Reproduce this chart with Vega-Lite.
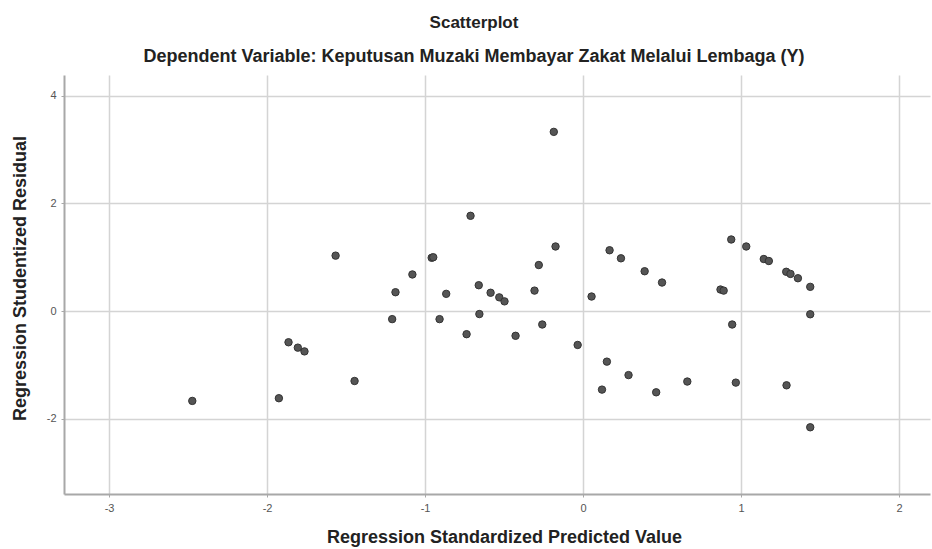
{
  "$schema": "https://vega.github.io/schema/vega-lite/v6.json",
  "autosize": {"type": "none"},
  "width": 866,
  "height": 419,
  "padding": {"left": 64, "top": 75, "right": 2, "bottom": 55},
  "background": "white",
  "title": {
    "text": "Scatterplot",
    "subtitle": "Dependent Variable: Keputusan Muzaki Membayar Zakat Melalui Lembaga (Y)",
    "anchor": "middle",
    "frame": "group",
    "dx": -23,
    "offset": 8,
    "font": "Liberation Sans",
    "fontSize": 17,
    "fontWeight": "bold",
    "color": "#222222",
    "subtitleFont": "Liberation Sans",
    "subtitleFontSize": 18,
    "subtitleFontWeight": "bold",
    "subtitleColor": "#222222",
    "subtitlePadding": 16
  },
  "config": {
    "view": {"stroke": null},
    "axis": {
      "grid": true,
      "gridColor": "#d4d4d4",
      "gridWidth": 1.5,
      "domainColor": "#a8a8a8",
      "domainWidth": 2,
      "tickColor": "#a8a8a8",
      "tickSize": 3,
      "labelFont": "Liberation Sans",
      "labelFontSize": 11,
      "labelColor": "#555555",
      "titleFont": "Liberation Sans",
      "titleFontSize": 18,
      "titleFontWeight": "bold",
      "titleColor": "#222222"
    }
  },
  "data": {
    "values": [
      {"pred": -2.473, "resid": -1.67},
      {"pred": -1.925, "resid": -1.62},
      {"pred": -1.864, "resid": -0.58},
      {"pred": -1.805, "resid": -0.68},
      {"pred": -1.763, "resid": -0.75},
      {"pred": -1.566, "resid": 1.03},
      {"pred": -1.446, "resid": -1.30},
      {"pred": -1.208, "resid": -0.15},
      {"pred": -1.187, "resid": 0.35},
      {"pred": -1.08, "resid": 0.68},
      {"pred": -0.958, "resid": 0.99},
      {"pred": -0.948, "resid": 1.0},
      {"pred": -0.908, "resid": -0.15},
      {"pred": -0.866, "resid": 0.32},
      {"pred": -0.737, "resid": -0.43},
      {"pred": -0.712, "resid": 1.77},
      {"pred": -0.66, "resid": 0.48},
      {"pred": -0.656, "resid": -0.056},
      {"pred": -0.585, "resid": 0.34},
      {"pred": -0.53, "resid": 0.255},
      {"pred": -0.497, "resid": 0.18},
      {"pred": -0.427, "resid": -0.46},
      {"pred": -0.307, "resid": 0.38},
      {"pred": -0.28, "resid": 0.855},
      {"pred": -0.258, "resid": -0.25},
      {"pred": -0.185, "resid": 3.33},
      {"pred": -0.174, "resid": 1.20},
      {"pred": -0.034, "resid": -0.63},
      {"pred": 0.054, "resid": 0.27},
      {"pred": 0.12, "resid": -1.46},
      {"pred": 0.151, "resid": -0.94},
      {"pred": 0.168, "resid": 1.13},
      {"pred": 0.24, "resid": 0.98},
      {"pred": 0.288, "resid": -1.19},
      {"pred": 0.39, "resid": 0.74},
      {"pred": 0.463, "resid": -1.51},
      {"pred": 0.50, "resid": 0.53},
      {"pred": 0.66, "resid": -1.31},
      {"pred": 0.87, "resid": 0.40},
      {"pred": 0.89, "resid": 0.38},
      {"pred": 0.938, "resid": 1.33},
      {"pred": 0.944, "resid": -0.25},
      {"pred": 0.967, "resid": -1.33},
      {"pred": 1.033, "resid": 1.20},
      {"pred": 1.144, "resid": 0.967},
      {"pred": 1.176, "resid": 0.93},
      {"pred": 1.286, "resid": 0.73},
      {"pred": 1.288, "resid": -1.38},
      {"pred": 1.313, "resid": 0.69},
      {"pred": 1.36, "resid": 0.61},
      {"pred": 1.438, "resid": 0.45},
      {"pred": 1.438, "resid": -0.06},
      {"pred": 1.438, "resid": -2.16}
    ]
  },
  "mark": {"type": "circle", "size": 55, "fill": "#555555", "stroke": "#333333", "strokeWidth": 1, "opacity": 1},
  "encoding": {
    "x": {
      "field": "pred",
      "type": "quantitative",
      "title": "Regression Standardized Predicted Value",
      "scale": {"domain": [-3.285, 2.196], "nice": false, "zero": false},
      "axis": {
        "values": [-3, -2, -1, 0, 1, 2],
        "labelExpr": "'' + datum.value",
        "labelPadding": 5,
        "titleX": 440,
        "titleY": 43,
        "titleBaseline": "middle",
        "titleAlign": "center"
      }
    },
    "y": {
      "field": "resid",
      "type": "quantitative",
      "title": "Regression Studentized Residual",
      "scale": {"domain": [-3.4, 4.387], "nice": false, "zero": false},
      "axis": {
        "values": [-2, 0, 2, 4],
        "labelExpr": "'' + datum.value",
        "labelPadding": 5,
        "titleX": -44,
        "titleY": 203,
        "titleAngle": -90,
        "titleBaseline": "middle",
        "titleAlign": "center"
      }
    }
  }
}
